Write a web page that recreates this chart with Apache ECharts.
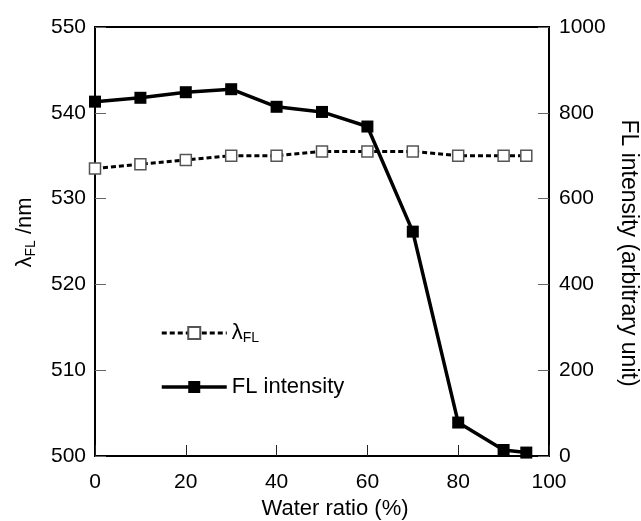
<!DOCTYPE html>
<html>
<head>
<meta charset="utf-8">
<script src="https://cdn.jsdelivr.net/npm/echarts@6/dist/echarts.min.js"></script>
<style>html,body{margin:0;padding:0;background:#fff;}#c{width:641px;height:521px;}</style>
</head>
<body>
<div id="c"></div>
<script>
var waterRatio = [0, 10, 20, 30, 40, 50, 60, 70, 80, 90, 95];
var lambdaFL = [533.5, 534, 534.5, 535, 535, 535.5, 535.5, 535.5, 535, 535, 535];
var flIntensity = [826, 835, 848, 855, 814, 802, 768, 523, 78, 14, 8];
var xTicks = [0, 20, 40, 60, 80, 100];
var leftTicks = [500, 510, 520, 530, 540, 550];
var rightTicks = [0, 200, 400, 600, 800, 1000];

var FONT = 'Liberation Sans';
var FS = 21;
var chart = echarts.init(document.getElementById('c'));
function pairs(xs, ys){ return xs.map(function(x,i){ return [x, ys[i]]; }); }
chart.setOption({
  animation: false,
  textStyle: { fontFamily: FONT },
  grid: { left: 95, right: 92, top: 27, bottom: 65, containLabel: false, outerBoundsMode: 'none',
    show: true, borderColor: '#000', borderWidth: 2, backgroundColor: 'transparent' },
  legend: {
    orient: 'vertical', left: 155, top: 314, itemWidth: 65, itemHeight: 15, itemGap: 31, itemTextGap: 4,
    data: [{ name: 'λFL', lineStyle: { width: 3 } }, { name: 'FL intensity', lineStyle: { width: 3.5 } }],
    formatter: function(n){ return n === 'λFL' ? '{l|λ}{s|FL}' : '{n|FL intensity}'; },
    textStyle: { color: '#000', fontSize: 22, fontFamily: FONT,
      rich: { l: { fontSize: 22, color: '#000', fontFamily: FONT, lineHeight: 24 },
              s: { fontSize: 14, color: '#000', fontFamily: FONT, verticalAlign: 'bottom', lineHeight: 24, padding: [12,0,0,0] },
              n: { fontSize: 22, color: '#000', fontFamily: FONT } } }
  },
  xAxis: {
    type: 'value', min: 0, max: 100, interval: 20,
    name: 'Water ratio (%)', nameLocation: 'middle', nameGap: 39,
    nameTextStyle: { fontSize: 22, color: '#000', fontFamily: FONT, padding: [0, 0, 0, 26] },
    axisLine: { lineStyle: { color: '#000', width: 2 } },
    axisTick: { inside: true, length: 11, lineStyle: { color: '#222', width: 1 } },
    axisLabel: { fontSize: FS, color: '#000', margin: 16, fontFamily: FONT,
      formatter: function(v){ return xTicks.indexOf(v) >= 0 ? String(v) : ''; } },
    splitLine: { show: false }
  },
  yAxis: [{
    type: 'value', min: 500, max: 550, interval: 10, position: 'left',
    name: '{l|λ}{s|FL}{l| /nm}', nameLocation: 'middle', nameGap: 57, nameRotate: 90,
    nameTextStyle: { fontSize: 22, color: '#000', fontFamily: FONT, padding: [0, 0, 0, 18],
      rich: { l: { fontSize: 22, color: '#000', fontFamily: FONT, lineHeight: 26 },
              s: { fontSize: 14, color: '#000', fontFamily: FONT, verticalAlign: 'bottom', lineHeight: 26, padding: [12,0,0,0] } } },
    axisLine: { lineStyle: { color: '#000', width: 2 } },
    axisTick: { inside: true, length: 11, lineStyle: { color: '#666', width: 1 } },
    axisLabel: { fontSize: FS, color: '#000', margin: 9, fontFamily: FONT,
      formatter: function(v){ return leftTicks.indexOf(v) >= 0 ? String(v) : ''; } },
    splitLine: { show: false }
  }, {
    type: 'value', min: 0, max: 1000, interval: 200, position: 'right',
    name: 'FL intensity (arbitrary unit)', nameLocation: 'middle', nameGap: 62, nameRotate: -90,
    nameTextStyle: { fontSize: 23, color: '#000', fontFamily: FONT, padding: [0, 0, 0, 23] },
    axisLine: { lineStyle: { color: '#000', width: 2 } },
    axisTick: { inside: true, length: 11, lineStyle: { color: '#666', width: 1 } },
    axisLabel: { fontSize: FS, color: '#000', margin: 10, fontFamily: FONT,
      formatter: function(v){ return rightTicks.indexOf(v) >= 0 ? String(v) : ''; } },
    splitLine: { show: false }
  }],
  series: [{
    name: 'λFL', type: 'line', yAxisIndex: 0, data: pairs(waterRatio, lambdaFL),
    symbol: 'rect', symbolSize: 11, showAllSymbol: true,
    lineStyle: { color: '#000', width: 3, type: [5, 3] },
    itemStyle: { color: '#fff', borderColor: '#555', borderWidth: 1.5 },
    z: 2
  }, {
    name: 'FL intensity', type: 'line', yAxisIndex: 1, data: pairs(waterRatio, flIntensity),
    symbol: 'rect', symbolSize: 12, showAllSymbol: true,
    lineStyle: { color: '#000', width: 3.5 },
    itemStyle: { color: '#000', borderColor: '#000', borderWidth: 0 },
    z: 3
  }]
});
</script>
</body>
</html>
